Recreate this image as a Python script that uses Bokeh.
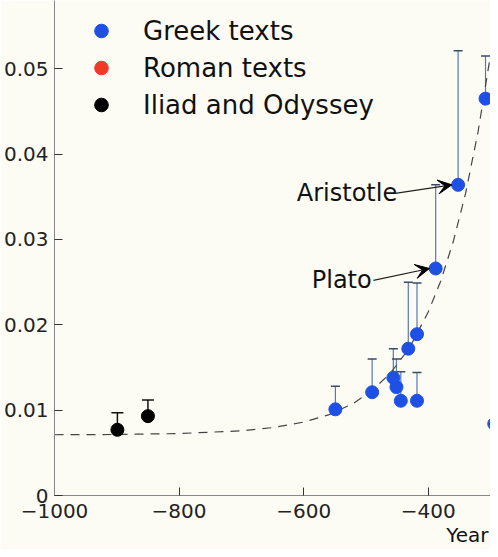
from bokeh.plotting import figure
from bokeh.models import (ColumnDataSource, Whisker, TeeHead, Arrow, VeeHead, Label,
                          FixedTicker, Legend, LegendItem, Range1d, Title)
from bokeh.embed import file_html
from bokeh.resources import INLINE

# ---------------- data ----------------
greek_year = [-549, -490, -456, -451, -444, -432, -418, -418, -388, -352, -308, -294]
greek_val = [0.0101, 0.0121, 0.0138, 0.0127, 0.0111, 0.0172, 0.0189, 0.0111, 0.0266, 0.0364, 0.0465, 0.0084]
greek_hi = [0.0128, 0.0160, 0.0172, 0.0160, 0.0145, 0.0250, 0.0249, 0.0144, 0.0364, 0.0521, 0.0515, 0.0084]

# Roman texts fall outside the visible year range of this view
roman_year = [float("nan")]
roman_val = [float("nan")]

homer_year = [-899, -850]
homer_val = [0.0077, 0.0093]
homer_hi = [0.0097, 0.0112]

fit_year = [-1000, -900, -800, -700, -650, -600, -560, -520, -490, -460, -430, -400, -380, -360, -340, -320, -300]
fit_val = [0.00712, 0.00715, 0.00726, 0.00758, 0.00795, 0.0086, 0.00945, 0.0108, 0.0123, 0.0144, 0.0173,
           0.0215, 0.0251, 0.0297, 0.0354, 0.0426, 0.0516]

y_ticks = [0, 0.01, 0.02, 0.03, 0.04, 0.05]
y_tick_labels = ["0", "0.01", "0.02", "0.03", "0.04", "0.05"]
x_ticks = [-1000, -800, -600, -400, -200]
x_tick_labels = ["\u22121000", "\u2212800", "\u2212600", "\u2212400", "\u2212200"]

names = ["Aristotle", "Plato"]
name_x = [-611, -587]
name_y = [0.0354, 0.0252]
arrow_x0 = [-453, -488]
arrow_y0 = [0.0354, 0.0252]
arrow_x1 = [-362, -398]
arrow_y1 = [0.0364, 0.0266]

axis_title = "Year"

# ---------------- style ----------------
BG = "#fdfcf4"
BLUE = "#1f50e6"
RED = "#f03a28"
FONT = "DejaVu Sans"

p = figure(width=490, height=549, output_backend="svg", toolbar_location=None,
           x_range=Range1d(-1000, -300), y_range=Range1d(0, 0.058),
           min_border_left=51, min_border_right=0, min_border_top=0, min_border_bottom=54)
p.background_fill_color = BG
p.border_fill_color = BG
p.outline_line_color = None
p.grid.grid_line_color = None

# fitted curve
p.line(fit_year, fit_val, line_color="#444444", line_width=1.2, line_dash="9 7")

# error bars
gsrc = ColumnDataSource(dict(x=greek_year, y=greek_val, hi=greek_hi))
hsrc = ColumnDataSource(dict(x=homer_year, y=homer_val, hi=homer_hi))
wg = Whisker(source=gsrc, base="x", lower="y", upper="hi", dimension="height",
             line_color="#5a78b4", line_width=1.2, lower_head=None,
             upper_head=TeeHead(size=9, line_color="#3a4a6a", line_width=1.5), level="underlay")
wh = Whisker(source=hsrc, base="x", lower="y", upper="hi", dimension="height",
             line_color="#111111", line_width=1.5, lower_head=None,
             upper_head=TeeHead(size=12, line_color="#111111", line_width=1.5), level="underlay")
p.add_layout(wg)
p.add_layout(wh)

rg = p.scatter("x", "y", source=gsrc, size=13, fill_color=BLUE, line_color=BLUE)
rr = p.scatter(roman_year, roman_val, size=13, fill_color=RED, line_color=RED)
rh = p.scatter("x", "y", source=hsrc, size=13, fill_color="black", line_color="black")

# annotations
for i in range(len(names)):
    p.add_layout(Label(x=name_x[i], y=name_y[i], text=names[i], text_font=FONT,
                       text_font_size="24px", text_baseline="middle", text_color="#111111"))
    p.add_layout(Arrow(x_start=arrow_x0[i], y_start=arrow_y0[i], x_end=arrow_x1[i], y_end=arrow_y1[i],
                       line_color="#222222", line_width=1.2,
                       end=VeeHead(size=14, fill_color="black", line_color="black")))

# axes
for ax in (p.xaxis[0], p.yaxis[0]):
    ax.axis_line_color = "#888888"
    ax.major_tick_line_color = "#333333"
    ax.major_tick_in = 8
    ax.major_tick_out = 0
    ax.minor_tick_line_color = None
    ax.major_label_text_font = FONT
    ax.major_label_text_color = "#222222"
p.yaxis[0].ticker = FixedTicker(ticks=y_ticks)
p.yaxis[0].major_label_overrides = {t: l for t, l in zip(y_ticks, y_tick_labels)}
p.yaxis[0].major_label_text_font_size = "20px"
p.yaxis[0].major_label_standoff = 6
xa = p.xaxis[0]
xa.ticker = FixedTicker(ticks=x_ticks)
xa.major_label_overrides = {t: l for t, l in zip(x_ticks, x_tick_labels)}
xa.major_label_text_font_size = "20px"
xa.major_label_standoff = 8

# x-axis title at the right end of the visible axis
p.add_layout(Title(text=axis_title, align="right", text_font=FONT, text_font_size="20px",
                   text_font_style="normal", text_color="#111111", standoff=0, offset=2), "below")

legend = Legend(items=[LegendItem(label="Greek texts", renderers=[rg]),
                       LegendItem(label="Roman texts", renderers=[rr]),
                       LegendItem(label="Iliad and Odyssey", renderers=[rh])],
                location=(30, 372), padding=0, margin=0, spacing=0,
                glyph_width=34, glyph_height=37, label_height=37, label_standoff=25,
                label_text_font=FONT, label_text_font_size="26px", label_text_color="#111111",
                background_fill_alpha=0, border_line_color=None)
p.add_layout(legend)

open("out.html", "w").write(file_html(p, INLINE))
